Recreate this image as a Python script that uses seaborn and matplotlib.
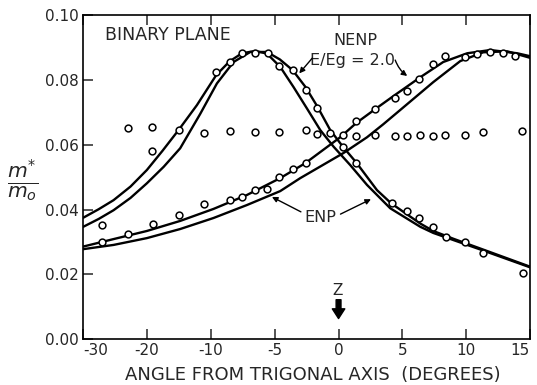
import matplotlib
matplotlib.use("Agg")
import numpy as np
import pandas as pd
import seaborn as sns
import matplotlib.pyplot as plt
import matplotlib.transforms as mtransforms

# ---------------- data (x in axis-position units; printed tick labels below) ----------------
tick_pos = [-20, -15, -10, -5, 0, 5, 10, 15]
tick_labels = ["-30", "-20", "-10", "-5", "0", "5", "10", "15"]
y_ticks = [0.00, 0.02, 0.04, 0.06, 0.08, 0.10]
y_tick_labels = ["0.00", "0.02", "0.04", "0.06", "0.08", "0.10"]

# left-peaked pair of theory curves
curveP_x = [-20.0, -18.8, -17.63, -16.3, -15.02, -13.8, -12.54, -11.10, -9.58, -8.54, -7.57, -6.53, -5.61, -4.57,
            -3.53, -2.48, -1.43, -0.39, 0.92, 2.23, 4.05, 6.40, 7.42, 9.0, 11.10, 15.0]
curveP_y = [0.0375, 0.0401, 0.0429, 0.0471, 0.0522, 0.0581, 0.0645, 0.0722, 0.0815, 0.0857, 0.0882, 0.0889, 0.0881, 0.0840,
            0.0778, 0.0712, 0.0645, 0.0594, 0.0537, 0.0476, 0.0404, 0.0347, 0.0328, 0.0306, 0.0277, 0.0222]
curveQ_x = [-20.0, -18.8, -17.63, -16.3, -15.02, -13.7, -12.41, -10.84, -9.53, -8.23, -6.92, -5.61, -4.6, -3.60, -2.59, -1.65,
            -0.65, 0.34, 1.39, 3.01, 4.13, 6.40, 7.42, 9.0, 11.10, 15.0]
curveQ_y = [0.0347, 0.0371, 0.0398, 0.0436, 0.0481, 0.0532, 0.0589, 0.0695, 0.0789, 0.0855, 0.0886, 0.0886, 0.0863, 0.0830, 0.0778, 0.0717,
            0.0645, 0.0594, 0.0545, 0.0460, 0.0419, 0.0357, 0.0334, 0.0310, 0.0280, 0.0224]

# right-peaked pair of theory curves
curveR_x = [-20.0, -17.63, -15.02, -12.41, -9.80, -7.18, -4.57, -2.61, 0.13, 1.39, 2.88, 4.37,
            6.40, 8.20, 10.08, 11.89, 14.00, 15.0]
curveR_y = [0.0286, 0.0309, 0.0334, 0.0365, 0.0402, 0.0445, 0.0497, 0.0543, 0.0623, 0.0667, 0.0710, 0.0752,
            0.0808, 0.0855, 0.0882, 0.0892, 0.0882, 0.0873]
curveS_x = [-20.0, -17.63, -15.02, -12.41, -9.80, -7.18, -4.57, -3.00, 0.37, 2.23, 3.50, 4.83,
            7.42, 9.54, 11.34, 13.22, 15.0]
curveS_y = [0.0278, 0.0291, 0.0312, 0.0340, 0.0374, 0.0414, 0.0457, 0.0497, 0.0574, 0.0623, 0.0663, 0.0707,
            0.0793, 0.0858, 0.0885, 0.0888, 0.0868]

# measured points
ptsL_x = [-18.54, -12.54, -9.58, -8.54, -7.57, -6.58, -5.56, -4.65, -3.60, -2.59, -1.65, 0.34, 1.39,
          4.17, 5.38, 6.32, 7.40, 8.42, 9.93, 11.32, 14.45]
ptsL_y = [0.0352, 0.0645, 0.0825, 0.0855, 0.0884, 0.0884, 0.0884, 0.0843, 0.0831, 0.0770, 0.0712, 0.0594, 0.0544,
          0.0419, 0.0395, 0.0373, 0.0347, 0.0314, 0.0300, 0.0267, 0.0205]
ptsR_x = [-18.54, -16.50, -14.55, -12.54, -10.58, -8.54, -7.57, -6.58, -5.61, -4.63, -3.60, -2.59,
          1.39, 2.88, 4.39, 5.36, 6.34, 7.37, 8.31, 9.87, 10.85, 11.86, 12.87, 13.85]
ptsR_y = [0.0300, 0.0324, 0.0357, 0.0382, 0.0417, 0.0431, 0.0440, 0.0460, 0.0464, 0.0501, 0.0526, 0.0544,
          0.0674, 0.0709, 0.0743, 0.0766, 0.0804, 0.0849, 0.0874, 0.0872, 0.0881, 0.0885, 0.0882, 0.0874]
ptsF_x = [-16.50, -14.58, -14.58, -10.58, -8.54, -6.58, -4.63, -2.59, -1.65, -0.65, 0.34, 1.39, 2.88,
          4.39, 5.36, 6.36, 7.37, 8.31, 9.90, 11.34, 14.40]
ptsF_y = [0.0652, 0.0655, 0.0581, 0.0635, 0.0643, 0.0638, 0.0639, 0.0644, 0.0632, 0.0635, 0.0630, 0.0628, 0.0630,
          0.0627, 0.0627, 0.0631, 0.0627, 0.0630, 0.0631, 0.0638, 0.0643]

# ---------------- figure ----------------
sns.set_style("ticks")
plt.rcParams['font.family'] = ['DejaVu Sans']
W, H = 537, 385
fig = plt.figure(figsize=(W / 100, H / 100), dpi=100)
ax = fig.add_axes([83.3 / W, 1 - 339.3 / H, (530 - 83.3) / W, (339.3 - 15) / H])

for cx, cy in [(curveP_x, curveP_y), (curveQ_x, curveQ_y), (curveR_x, curveR_y), (curveS_x, curveS_y)]:
    sns.lineplot(x=cx, y=cy, ax=ax, color="black", lw=1.7, sort=False, estimator=None, zorder=2)

for px_, py_ in [(ptsL_x, ptsL_y), (ptsR_x, ptsR_y), (ptsF_x, ptsF_y)]:
    sns.scatterplot(x=px_, y=py_, ax=ax, marker="o", s=24, color="white",
                    edgecolor="black", linewidth=1.1, zorder=3)

ax.set_xlim(-20, 15)
ax.set_ylim(0.0, 0.10)
ax.set_xticks(tick_pos)
ax.set_xticklabels(tick_labels, fontsize=11)
xl = ax.get_xticklabels()
xl[0].set_horizontalalignment("left")
xl[-1].set_horizontalalignment("right")
xl[-1].set_transform(xl[-1].get_transform() + mtransforms.ScaledTranslation(6 / 100, 0, fig.dpi_scale_trans))
ax.set_yticks(y_ticks)
ax.set_yticklabels(y_tick_labels, fontsize=11)
ax.tick_params(axis="x", direction="in", length=7, width=1.1, top=True, pad=3)
ax.tick_params(axis="y", direction="in", length=7, width=1.1, right=False, pad=3)
for sp in ax.spines.values():
    sp.set_visible(True)
    sp.set_linewidth(1.2)
    sp.set_color("black")

ax.set_xlabel("ANGLE FROM TRIGONAL AXIS  (DEGREES)", fontsize=13)
ax.xaxis.set_label_coords((313 - 83.3) / (530 - 83.3), -(375 - 339.3) / (339.3 - 15))
ax.xaxis.label.set_va("center")
ax.set_ylabel("")
fig.text(23 / W, 1 - 180 / H, r"$\frac{m^{*}}{m_{o}}$", fontsize=21, ha="center", va="center")

# annotations
ax.text(-18.28, 0.0938, "BINARY PLANE", fontsize=12.5, ha="left", va="center")
ax.text(1.30, 0.0922, "NENP", fontsize=11.5, ha="center", va="center")
ax.text(1.07, 0.0860, "E/Eg = 2.0", fontsize=11.5, ha="center", va="center")
arr = dict(arrowstyle="-|>", color="black", lw=1.0, mutation_scale=8, shrinkA=0, shrinkB=0)
ax.annotate("", xy=(-3.08, 0.0820), xytext=(-2.06, 0.0867), arrowprops=arr)
ax.annotate("", xy=(5.38, 0.0812), xytext=(4.44, 0.0861),
            arrowprops=dict(arr, connectionstyle="arc3,rad=0.15"))
ax.text(-1.43, 0.0377, "ENP", fontsize=11.5, ha="center", va="center")
ax.annotate("", xy=(2.54, 0.0432), xytext=(0.15, 0.0386), arrowprops=arr)
ax.annotate("", xy=(-5.22, 0.0439), xytext=(-2.95, 0.0393), arrowprops=arr)
ax.text(-0.1, 0.0152, "Z", fontsize=11, ha="center", va="center")
ax.annotate("", xy=(0.0, 0.0064), xytext=(0.0, 0.0122),
            arrowprops=dict(arrowstyle="simple,head_width=0.9,head_length=0.7,tail_width=0.35",
                            color="black", shrinkA=0, shrinkB=0, mutation_scale=10))

fig.savefig("out.png", dpi=100)
